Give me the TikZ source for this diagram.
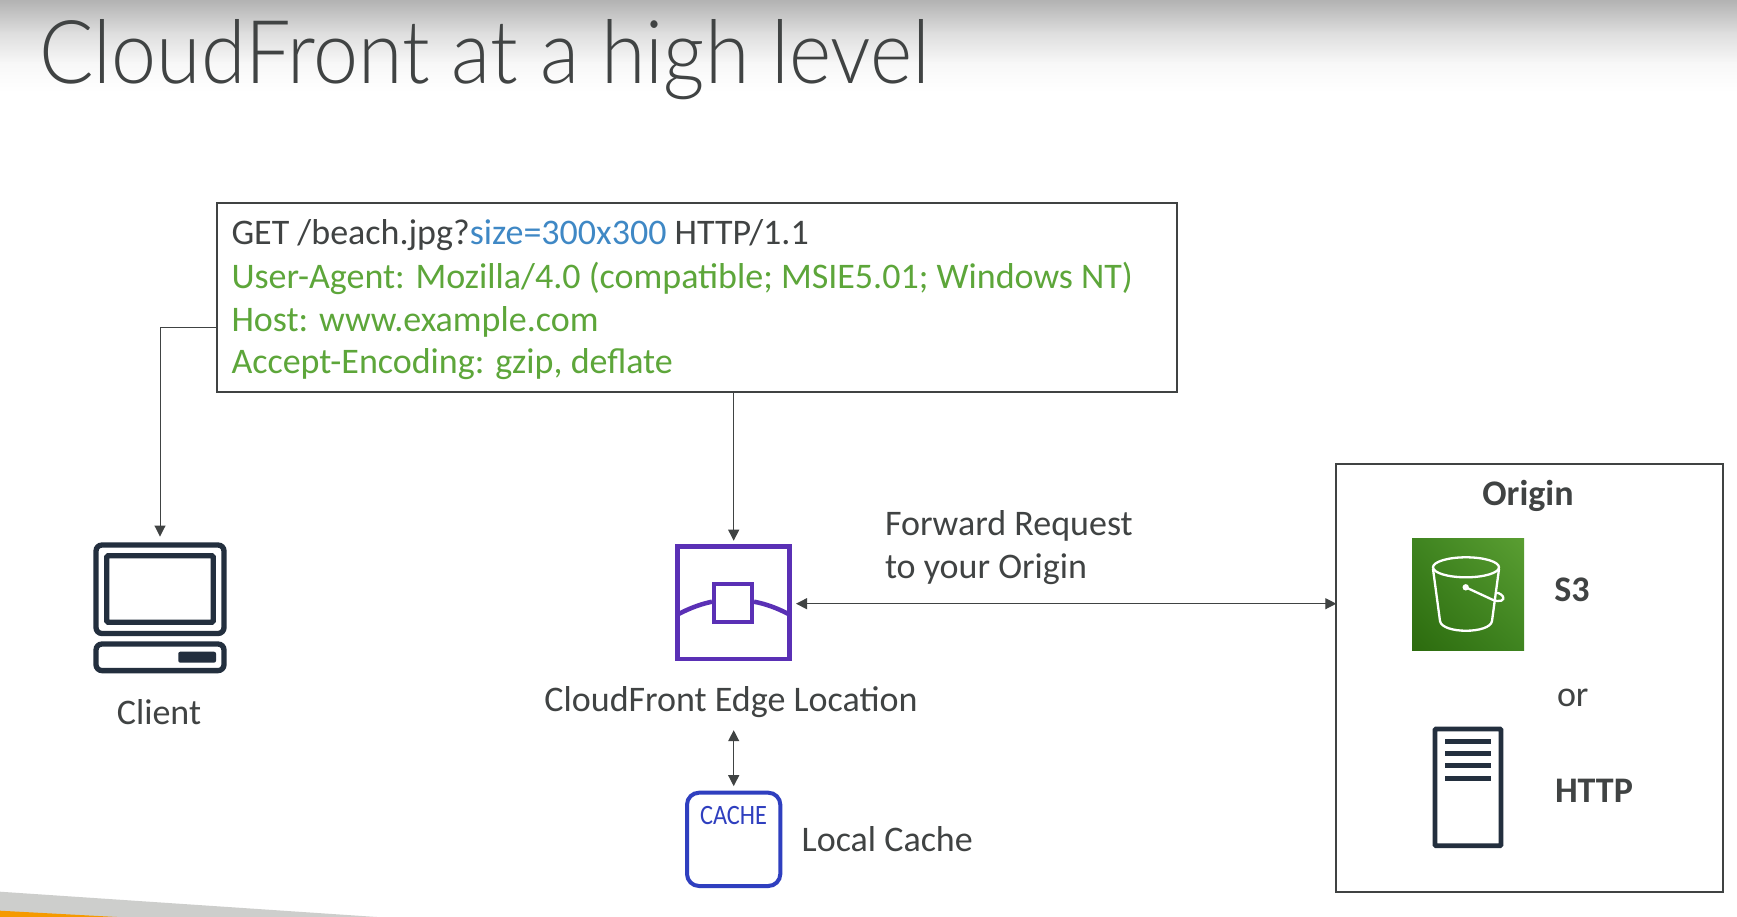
\documentclass[tikz,border=0pt]{standalone}
\usepackage{fontspec}
\usetikzlibrary{arrows.meta,positioning,calc,shadings}
\setmainfont{Carlito}
\newfontfamily\titlefont[FakeStretch=0.918]{Lato Light}
\newfontfamily\cachefont[FakeStretch=0.87]{Carlito}
\definecolor{ink}{HTML}{404343}
\definecolor{reqgreen}{HTML}{5DA63A}
\definecolor{reqblue}{HTML}{3F88C5}
\definecolor{icondark}{HTML}{232F3E}
\definecolor{edgepurple}{HTML}{5A30B5}
\definecolor{cacheblue}{HTML}{2F3FBF}
\definecolor{foldgray}{HTML}{CDCECC}
\definecolor{foldorange}{HTML}{F59A00}
\definecolor{sthreedark}{HTML}{2C6B0E}
\definecolor{sthreelight}{HTML}{5A9E32}
\definecolor{sthreemid}{HTML}{3F8420}
\tikzset{
  x=1pt,y=-1pt,
  frame/.style={draw=ink,line width=2pt,rectangle,inner sep=0pt,outer sep=0pt},
  label/.style={inner sep=0pt,outer sep=0pt,anchor=base west,text=ink,font=\fontsize{36}{42}\selectfont},
  labelc/.style={label,anchor=base},
  boldlabel/.style={label,font=\fontsize{36}{42}\selectfont\bfseries},
  link/.style={draw=ink,line width=1.2pt,-{Triangle[width=11pt,length=11pt]}},
  linkboth/.style={draw=ink,line width=1.2pt,{Triangle[width=11pt,length=11pt]}-{Triangle[width=11pt,length=11pt]}},
  icon/.style={draw=icondark,line width=5.3pt,rounded corners=6pt},
  anchorbox/.style={rectangle,inner sep=0pt,outer sep=0pt},
}
\begin{document}
\begin{tikzpicture}
\useasboundingbox (0,0) rectangle (1737,917);
\fill[white] (0,0) rectangle (1737,917);
% header band and corner fold
\shade[top color=black!30,bottom color=black!13] (0,0) rectangle (1737,33.5);
\shade[top color=black!13,bottom color=black!3] (0,33) rectangle (1737,63.5);
\shade[top color=black!3,bottom color=white] (0,63) rectangle (1737,92);
\fill[foldgray] (0,891.7) -- (377,917) -- (0,917) -- cycle;
\fill[foldorange] (0,910.7) -- (117,917) -- (0,917) -- cycle;
% title
\node[inner sep=0pt,anchor=base west,text=ink,font=\titlefont\fontsize{88}{100}\selectfont] (title) at (39,84) {CloudFront at a high level};
% request box
\node[frame,minimum width=960pt,minimum height=189pt] (req) at (697,297.5) {};
\node[label] (l1) at (231.5,245) {GET /beach.jpg?\textcolor{reqblue}{size=300x300} HTTP/1.1};
\node[label,text=reqgreen] (l2) at (231.5,288) {User-Agent: Mozilla/4.0 (compatible; MSIE5.01; Windows NT)};
\node[label,text=reqgreen] (l3) at (231.5,331) {Host: www.example.com};
\node[label,text=reqgreen] (l4) at (231.5,373) {Accept-Encoding: gzip, deflate};
% client icon
\node[anchorbox,minimum width=133.4pt,minimum height=93.7pt] (client) at (160,589) {};
\draw[icon] (96,545) rectangle (224,633.5);
\draw[icon,rounded corners=1.5pt] (106.7,555.7) rectangle (213.3,622.3);
\draw[icon] (96,644) rectangle (224,670.6);
\fill[icondark,rounded corners=2pt] (178.3,651.7) rectangle (216,662.7);
\node[labelc] (clientlabel) at (159,724) {Client};
% edge icon
\node[anchorbox,minimum width=116.7pt,minimum height=118.8pt] (edge) at (733.4,603.7) {};
\draw[edgepurple,line width=4.7pt] (677.4,546.7) rectangle (789.3,659);
\draw[edgepurple,line width=4.5pt] (714.2,584.2) rectangle (751.8,621.8);
\draw[edgepurple,line width=4.5pt] (678,614.3) .. controls (690,608) and (701,604) .. (712,601.7);
\draw[edgepurple,line width=4.5pt] (789,614.3) .. controls (777,608) and (766,604) .. (754,601.7);
\node[labelc] (edgelabel) at (731,711) {CloudFront Edge Location};
% cache icon
\node[anchorbox,minimum width=97.3pt,minimum height=97.3pt] (cache) at (733.6,839.3) {};
\draw[cacheblue,line width=4pt,rounded corners=12pt] (687,792.7) rectangle (780.3,886);
\node[inner sep=0pt,anchor=base,text=cacheblue,font=\cachefont\fontsize{28}{30}\selectfont] (cachetext) at (733.5,824) {CACHE};
\node[label] (cachelabel) at (801.7,851) {Local Cache};
% origin
\node[frame,minimum width=387pt,minimum height=428.3pt] (origin) at (1529.8,677.8) {};
\node[boldlabel,anchor=base] (originlabel) at (1528,505) {Origin};
\shade[lower left=sthreedark,upper right=sthreelight,lower right=sthreemid,upper left=sthreemid] (1412,538) rectangle (1524,650);
\begin{scope}[draw=white,line width=2.3pt]
\draw (1466,567.3) ellipse [x radius=33, y radius=10];
\draw (1433,569) -- (1440,621) .. controls (1442,634) and (1490,634) .. (1492,621) -- (1499,569);
\draw (1465.7,587.3) -- (1492,599.5) .. controls (1500,603) and (1505,600) .. (1503,596.5) .. controls (1500,593) and (1497,592.5) .. (1495,592.5);
\fill[white] (1465.7,587.3) circle (3.2);
\end{scope}
\node[boldlabel] (s3label) at (1554.3,601) {S3};
\node[label] (orlabel) at (1557,706.7) {or};
\draw[icondark,line width=4.7pt,rounded corners=1pt] (1435,729) rectangle (1501,845.7);
\foreach \yy in {741.7,753.7,765.7,778}{\fill[icondark] (1445,\yy-2.5) rectangle (1491,\yy+2.5);}
\node[boldlabel] (httplabel) at (1555,802.7) {HTTP};
\node[label] (fwd1) at (885,535.5) {Forward Request};
\node[label] (fwd2) at (885,578) {to your Origin};
% connectors
\coordinate (reqleft) at (217,327.5);
\coordinate (reqbottom) at (733.7,392);
\draw[link,line width=0.9pt] (reqleft) -| ([yshift=5.6pt]client.north);
\draw[link] (reqbottom) -- ([yshift=3.6pt]edge.north -| reqbottom);
\draw[linkboth] ([xshift=4.3pt]edge.east) -- (origin.west |- edge.east);
\draw[linkboth] ([yshift=-13pt]edgelabel.south -| reqbottom) -- ([yshift=4.5pt]cache.north -| reqbottom);
\end{tikzpicture}
\end{document}
